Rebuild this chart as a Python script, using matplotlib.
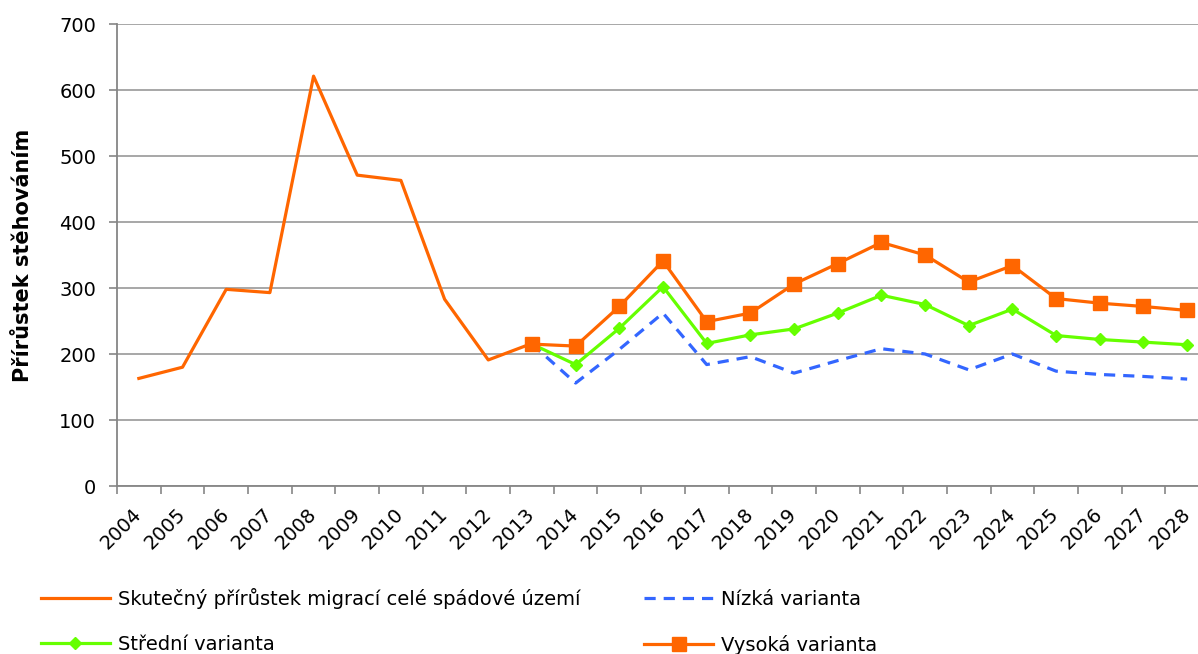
import numpy as np
import matplotlib.pyplot as plt

# Data
roky = [str(r) for r in range(2004, 2029)]
skutecny = [163, 180, 298, 293, 621, 471, 463, 283, 191, 216]
roky_var = roky[9:]
nizka = [215, 156, 207, 262, 184, 196, 171, 190, 208, 200, 176, 200, 174, 169, 166, 162]
stredni = [215, 184, 239, 302, 216, 229, 238, 262, 289, 275, 243, 268, 228, 222, 218, 214]
vysoka = [215, 212, 272, 341, 249, 262, 306, 337, 369, 350, 309, 334, 284, 277, 272, 266]

oranzova = '#FF6600'
zelena = '#66FF00'
modra = '#3366FF'
seda = '#868686'

plt.rcParams['font.family'] = ['DejaVu Sans']

fig = plt.figure(figsize=(11.98, 6.54), dpi=100)
ax = fig.add_axes([117 / 1198, 1 - 486 / 654, 1092 / 1198, 462 / 654])

x = np.arange(len(roky))
xv = x[9:]

l1, = ax.plot(x[:len(skutecny)], skutecny, color=oranzova, lw=2.3,
              label='Skutečný přírůstek migrací celé spádové území', zorder=3)
l2, = ax.plot(xv, nizka, color=modra, lw=2.3, dashes=(3.5, 2.5),
              label='Nízká varianta', zorder=3)
l3, = ax.plot(xv, stredni, color=zelena, lw=2.3, marker='D', ms=6.5,
              label='Střední varianta', zorder=4)
l4, = ax.plot(xv, vysoka, color=oranzova, lw=2.3, marker='s', ms=10,
              label='Vysoká varianta', zorder=5)

ax.set_xlim(-0.5, len(roky) - 0.5)
ax.set_ylim(0, 700)
ax.set_yticks(range(0, 701, 100))
ax.set_xticks(x)
ax.set_xticklabels(roky, rotation=45, ha='right', va='center',
                   rotation_mode='anchor', fontsize=14)
ax.set_xticks(np.arange(-0.5, len(roky), 1), minor=True)
ax.tick_params(axis='x', which='major', length=0, pad=18)
ax.tick_params(axis='x', which='minor', length=5.5, color=seda, width=1.2)
ax.tick_params(axis='y', length=6, color=seda, width=1.2, labelsize=14, pad=9)

ax.grid(axis='y', color='#A0A0A0', lw=1.3)
ax.set_axisbelow(True)
for s in ['top', 'right']:
    ax.spines[s].set_visible(False)
for s in ['left', 'bottom']:
    ax.spines[s].set_color(seda)
    ax.spines[s].set_linewidth(1.3)

ax.set_ylabel('Přírůstek stěhováním', fontsize=15, fontweight='bold', labelpad=19)

fig.legend(handles=[l1, l3, l2, l4], loc='upper left', bbox_to_anchor=(0.034, 0.101),
           ncol=2, frameon=False, fontsize=14, handlelength=3.55, handletextpad=0.4,
           columnspacing=3.3, labelspacing=1.35, borderaxespad=0, borderpad=0)

fig.savefig('out.png', dpi=100)
